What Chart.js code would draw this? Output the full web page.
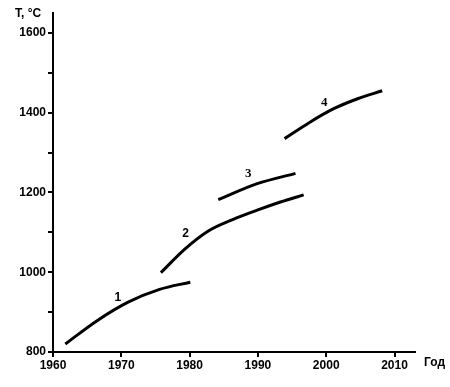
<!DOCTYPE html>
<html>
<head>
<meta charset="utf-8">
<script src="https://cdn.jsdelivr.net/npm/chart.js@4"></script>
<style>
  html, body { margin: 0; padding: 0; background: #fff; }
  #wrap { width: 450px; height: 387px; }
</style>
</head>
<body>
<div id="wrap"><canvas id="chart" width="450" height="387"></canvas></div>
<script>
// curve data (year, temperature °C)
const curveNames = ['1', '2', '3', '4'];
const curve1Years = [1961.8, 1966.4, 1971.0, 1975.6, 1980.1];
const curve1Temps = [820, 878, 925, 957, 975];
const curve2Years = [1975.8, 1979.3, 1982.8, 1986.3, 1989.8, 1993.3, 1996.7];
const curve2Temps = [999, 1058, 1104, 1132, 1155, 1176, 1194];
const curve3Years = [1984.2, 1989.9, 1995.5];
const curve3Temps = [1182, 1222, 1248];
const curve4Years = [1993.9, 1997.5, 2001.1, 2004.6, 2008.2];
const curve4Temps = [1335, 1375, 1410, 1435, 1455];
// where each curve's number sits, in data units
const nameYears = [1969.5, 1979.4, 1988.6, 1999.7];
const nameTemps = [937, 1097, 1247, 1425];
const yLabels = [800, 1000, 1200, 1400, 1600];
const xLabels = [1960, 1970, 1980, 1990, 2000, 2010];

const tickFont = { family: '"Liberation Sans", Arial, sans-serif', size: 12, weight: 'bold' };

function toPoints(xs, ys) {
  return xs.map((x, i) => ({ x: x, y: ys[i] }));
}

const allYears = [curve1Years, curve2Years, curve3Years, curve4Years];
const allTemps = [curve1Temps, curve2Temps, curve3Temps, curve4Temps];

const datasets = allYears.map((ys, i) => ({
  label: curveNames[i],
  data: toPoints(ys, allTemps[i]),
  borderColor: '#000',
  borderWidth: 3,
  pointRadius: 0,
  fill: false,
  cubicInterpolationMode: 'monotone'
}));

const extraText = {
  id: 'extraText',
  afterDraw(chart) {
    const ctx = chart.ctx;
    const xs = chart.scales.x, ys = chart.scales.y;
    ctx.save();
    ctx.fillStyle = '#000';
    ctx.textBaseline = 'middle';
    ctx.font = 'bold 12px "Liberation Sans", Arial, sans-serif';
    ctx.textAlign = 'left';
    ctx.fillText('T, °C', 15, 14);
    ctx.fillText('Год', 424, 363);
    ctx.textAlign = 'center';
    curveNames.forEach((n, i) => {
      ctx.font = i < 2 ? 'bold 12px "Liberation Sans", Arial, sans-serif'
                       : 'bold 13px "Liberation Serif", "Times New Roman", serif';
      ctx.fillText(n, xs.getPixelForValue(nameYears[i]), ys.getPixelForValue(nameTemps[i]));
    });
    ctx.restore();
  }
};

new Chart(document.getElementById('chart'), {
  type: 'line',
  data: { datasets: datasets },
  options: {
    responsive: false,
    animation: false,
    layout: { padding: { top: 13, right: 35, left: 0, bottom: 0 } },
    plugins: { legend: { display: false }, tooltip: { enabled: false } },
    scales: {
      x: {
        type: 'linear',
        min: 1960, max: 2013,
        afterFit: s => { s.height = 35; },
        border: { display: true, color: '#000', width: 2 },
        grid: { drawOnChartArea: false, drawTicks: true, tickLength: 5, color: '#000', lineWidth: 2 },
        ticks: {
          stepSize: 10, includeBounds: false, color: '#000', font: tickFont, padding: 1,
          maxRotation: 0,
          callback: v => xLabels.includes(v) ? String(v) : ''
        }
      },
      y: {
        min: 800, max: 1650,
        afterFit: s => { s.width = 53; },
        border: { display: true, color: '#000', width: 2 },
        grid: { drawOnChartArea: false, drawTicks: true, tickLength: 5, color: '#000', lineWidth: 2 },
        ticks: {
          stepSize: 100, includeBounds: false, color: '#000', font: tickFont, padding: 2,
          callback: v => yLabels.includes(v) ? String(v) : ''
        }
      }
    }
  },
  plugins: [extraText]
});
</script>
</body>
</html>
